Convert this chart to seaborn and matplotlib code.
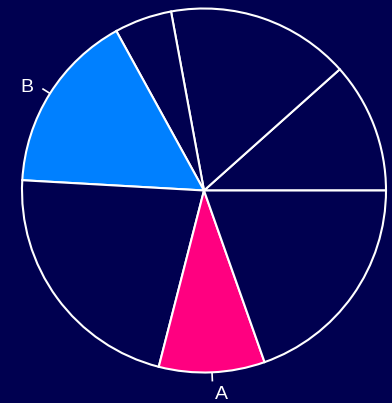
import numpy as np
import matplotlib
matplotlib.use("Agg")
import matplotlib.pyplot as plt
import seaborn as sns

# Slice shares (percent), listed counter-clockwise starting from 3 o'clock
shares = [11.6, 16.3, 5.1, 16.1, 21.9, 9.4, 19.6]
names = ["", "", "", "B", "", "A", ""]

BG = "#000050"
highlight = {"A": "#FF0080", "B": "#0080FF"}
colors = [highlight.get(n, BG) for n in names]

sns.set_theme(style="white", rc={"figure.facecolor": BG, "axes.facecolor": BG})
plt.rcParams["font.family"] = ["Liberation Sans", "DejaVu Sans"]

fig = plt.figure(figsize=(3.92, 4.03), dpi=100)
ax = fig.add_axes([22 / 392, 30.5 / 403, 364 / 392, 364 / 403])

wedges, _ = ax.pie(
    shares,
    colors=colors,
    startangle=0,
    counterclock=True,
    wedgeprops=dict(edgecolor="white", linewidth=1.5),
)
ax.set_xlim(-1, 1)
ax.set_ylim(-1, 1)
ax.axis("off")
for w in wedges:
    w.set_clip_on(False)

# Outside labels with short radial leader ticks
label_offsets = {"A": ((1.6, -12.5), "left"), "B": ((-6.7, -2.7), "right")}
for w, name in zip(wedges, names):
    if not name:
        continue
    mid = np.deg2rad((w.theta1 + w.theta2) / 2)
    x0, y0 = np.cos(mid), np.sin(mid)
    x1, y1 = 1.05 * x0, 1.05 * y0
    ax.plot([x0, x1], [y0, y1], color="white", lw=1.2, clip_on=False,
            solid_capstyle="butt")
    off, ha = label_offsets[name]
    ax.annotate(name, xy=(x1, y1), xytext=off, textcoords="offset points",
                ha=ha, va="baseline", color="white", fontsize=14,
                annotation_clip=False)

fig.savefig("out.png", dpi=100, facecolor=BG)
